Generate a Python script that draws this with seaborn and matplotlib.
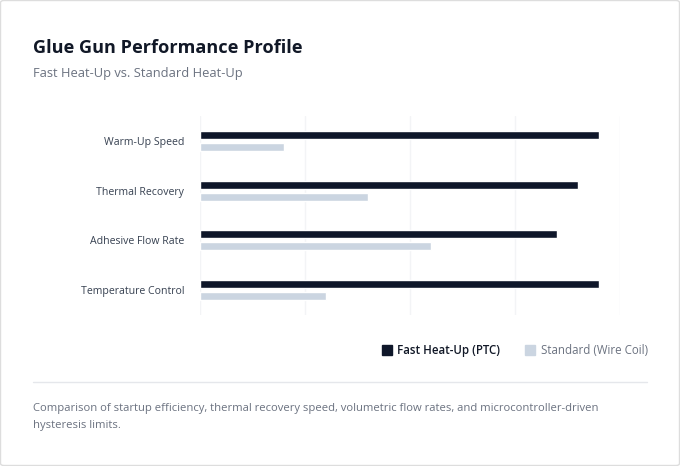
import pandas as pd
import seaborn as sns
import matplotlib.pyplot as plt
from matplotlib.patches import FancyBboxPatch
from matplotlib.lines import Line2D

# ----------------------------------------------------------------------
# DATA
# ----------------------------------------------------------------------

categories = ["Warm-Up Speed", "Thermal Recovery", "Adhesive Flow Rate", "Temperature Control"]
fast_ptc = [95, 90, 85, 95]
standard_coil = [20, 40, 55, 30]
series_names = ["Fast Heat-Up (PTC)", "Standard (Wire Coil)"]
x_ticks = [0, 25, 50, 75, 100]

df = pd.DataFrame({
    "metric": categories * 2,
    "score": fast_ptc + standard_coil,
    "series": [series_names[0]] * 4 + [series_names[1]] * 4,
})

palette = {series_names[0]: "#0f172a", series_names[1]: "#cbd5e1"}

# ----------------------------------------------------------------------
# PLOT
# ----------------------------------------------------------------------

sns.set_style("white")
plt.rcParams["font.family"] = ["Open Sans", "DejaVu Sans"]

fig = plt.figure(figsize=(6.8, 4.66), dpi=100)
ax = fig.add_axes([200 / 680, 1 - 315 / 466, 420 / 680, 199 / 466])

sns.barplot(
    data=df, y="metric", x="score", hue="series",
    palette=palette, width=0.48, gap=0.333,
    orient="h", ax=ax, legend=False, saturation=1,
)

ax.set_xlim(0, 100)
ax.set_xticks(x_ticks)
ax.set_xticklabels([])
ax.grid(axis="x", color="#f3f4f6", linewidth=1)
ax.set_axisbelow(True)
ax.tick_params(axis="both", length=0)
ax.tick_params(axis="y", pad=11.5, labelsize=7.55, labelcolor="#374151")
ax.set_xlabel("")
ax.set_ylabel("")
sns.despine(ax=ax, left=True, bottom=True)

# Title + subtitle
fig.text(33 / 680, 1 - 48 / 466, "Glue Gun Performance Profile",
         fontsize=13.1, fontweight="bold", color="#111827", va="center", ha="left")
fig.text(33 / 680, 1 - 73 / 466, "Fast Heat-Up vs. Standard Heat-Up",
         fontsize=9.25, color="#6b7280", va="center", ha="left")

# Legend
handles = [
    Line2D([], [], marker="s", linestyle="", markersize=6.5,
           markerfacecolor=palette[n], markeredgecolor=palette[n])
    for n in series_names
]
leg = fig.legend(handles, series_names, loc="center right",
                 bbox_to_anchor=(658 / 680, 1 - 350.5 / 466), ncol=2, frameon=False,
                 fontsize=8.3, handletextpad=0.5, columnspacing=2.2, handlelength=0.8)
texts = leg.get_texts()
texts[0].set_color("#111827")
texts[0].set_fontweight("semibold")
texts[1].set_color("#6b7280")

# Divider line
fig.add_artist(Line2D([33 / 680, 647 / 680], [1 - 382 / 466, 1 - 382 / 466],
                      color="#e5e7eb", linewidth=1))

# Footer
fig.text(33 / 680, 1 - 408.5 / 466,
         "Comparison of startup efficiency, thermal recovery speed, volumetric flow rates, and microcontroller-driven",
         fontsize=8.1, color="#6b7280", va="center", ha="left")
fig.text(33 / 680, 1 - 425.5 / 466, "hysteresis limits.",
         fontsize=8.1, color="#6b7280", va="center", ha="left")

# Card border
fig.add_artist(FancyBboxPatch((0.5 / 680, 0.5 / 466), 679 / 680, 465 / 466,
                              boxstyle="round,pad=0,rounding_size=0.005",
                              transform=fig.transFigure, facecolor="none",
                              edgecolor="#dddddd", linewidth=1))

plt.savefig("out.png", dpi=100)
